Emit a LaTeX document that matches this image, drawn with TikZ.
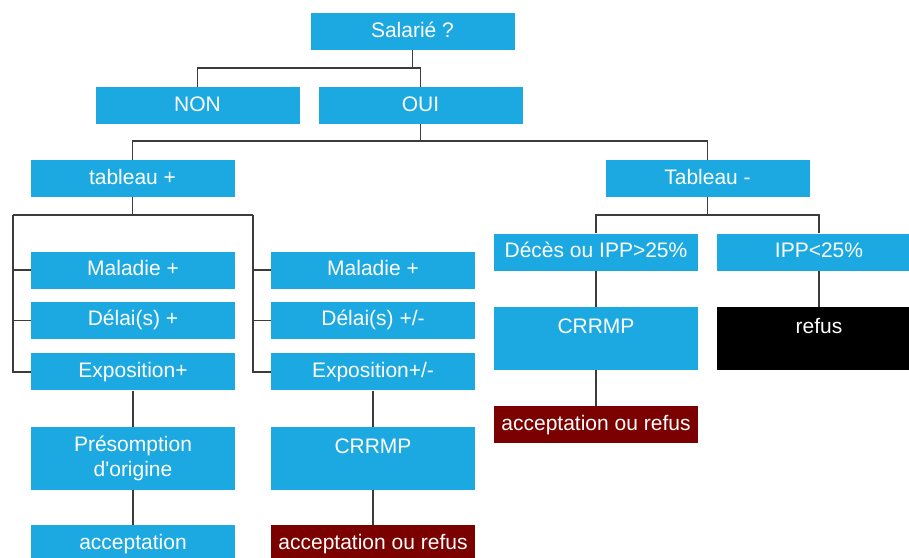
\documentclass[tikz,border=0pt]{standalone}
\usepackage{fontspec}
\setmainfont{Liberation Sans}
\usepackage{tikz}
\usetikzlibrary{positioning}
\definecolor{cblue}{HTML}{1CA9E1}
\definecolor{cwine}{HTML}{7B0000}
\definecolor{cline}{HTML}{3C3C3C}
\tikzset{
  cell/.style={fill=cblue,text=white,minimum width=204pt,inner sep=0pt,font=\fontsize{21}{25}\selectfont},
  box/.style={cell,minimum height=37pt,text height=15pt,text depth=4pt},
  tall/.style={cell,minimum height=63pt,align=center},
  wine/.style={box,fill=cwine},
  noir/.style={tall,fill=black},
  link/.style={draw=cline,line width=1.8pt},
}
\begin{document}
\begin{tikzpicture}[x=1pt,y=-1pt]
\clip (0,0) rectangle (909,557);
\node[box] (sal) at (412.5,31.5) {Salarié ?};
\node[box] (non) at (197.5,105.5) {NON};
\node[box] (oui) at (420.5,105.5) {OUI};
\node[box] (tabp) at (132.5,178.5) {tableau +};
\node[box] (tabm) at (707.5,178.5) {Tableau -};
% tableau +
\node[box] (mal1) at (133,270) {Maladie +};
\node[box, below=13pt of mal1] (del1) {Délai(s) +};
\node[box, below=14pt of del1] (exp1) {Exposition+};
\node[tall, below=36pt of exp1] (pres) {Présomption\\d\textquotesingle origine};
\node[box, below=35pt of pres] (acc1) {acceptation};
\node[box] (mal2) at (373,270) {Maladie +};
\node[box, below=13pt of mal2] (del2) {Délai(s) +/-};
\node[box, below=14pt of del2] (exp2) {Exposition+/-};
\node[tall, below=36pt of exp2] (crr1) {CRRMP\\\mbox{}};
\node[wine, below=35pt of crr1] (ar1) {acceptation ou refus};
% Tableau -
\node[box] (dec) at (596,252) {Décès ou IPP>25\%};
\node[box] (ipp) at (819,252) {IPP<25\%};
\node[tall, below=36pt of dec] (crr2) {CRRMP\\\mbox{}};
\node[noir, below=36pt of ipp] (ref) {refus\\\mbox{}};
\node[wine, below=36pt of crr2] (ar2) {acceptation ou refus};
% junctions
\coordinate (j1) at (412.5,68);
\coordinate (j2) at (420.5,141);
\coordinate (j3) at (132.5,215);
\coordinate (j4) at (707.5,215);
\coordinate (cl) at (13,215);
\coordinate (cr) at (253,215);
\draw[link] (sal.south) -- (j1);
\draw[link] (non.north) |- (j1) -| (oui.north);
\draw[link] (oui.south) -- (j2);
\draw[link] (tabp.north) |- (j2) -| (tabm.north);
\draw[link] (tabp.south) -- (j3);
\draw[link] (cl) -- (cr);
\foreach \n in {mal1,del1,exp1} \draw[link] (cl) |- (\n.west);
\foreach \n in {mal2,del2,exp2} \draw[link] (cr) |- (\n.west);
\draw[link] (exp1) -- (pres); \draw[link] (pres) -- (acc1);
\draw[link] (exp2) -- (crr1); \draw[link] (crr1) -- (ar1);
\draw[link] (tabm.south) -- (j4);
\draw[link] (dec.north) |- (j4) -| (ipp.north);
\draw[link] (dec) -- (crr2); \draw[link] (crr2) -- (ar2);
\draw[link] (ipp) -- (ref);
\end{tikzpicture}
\end{document}
